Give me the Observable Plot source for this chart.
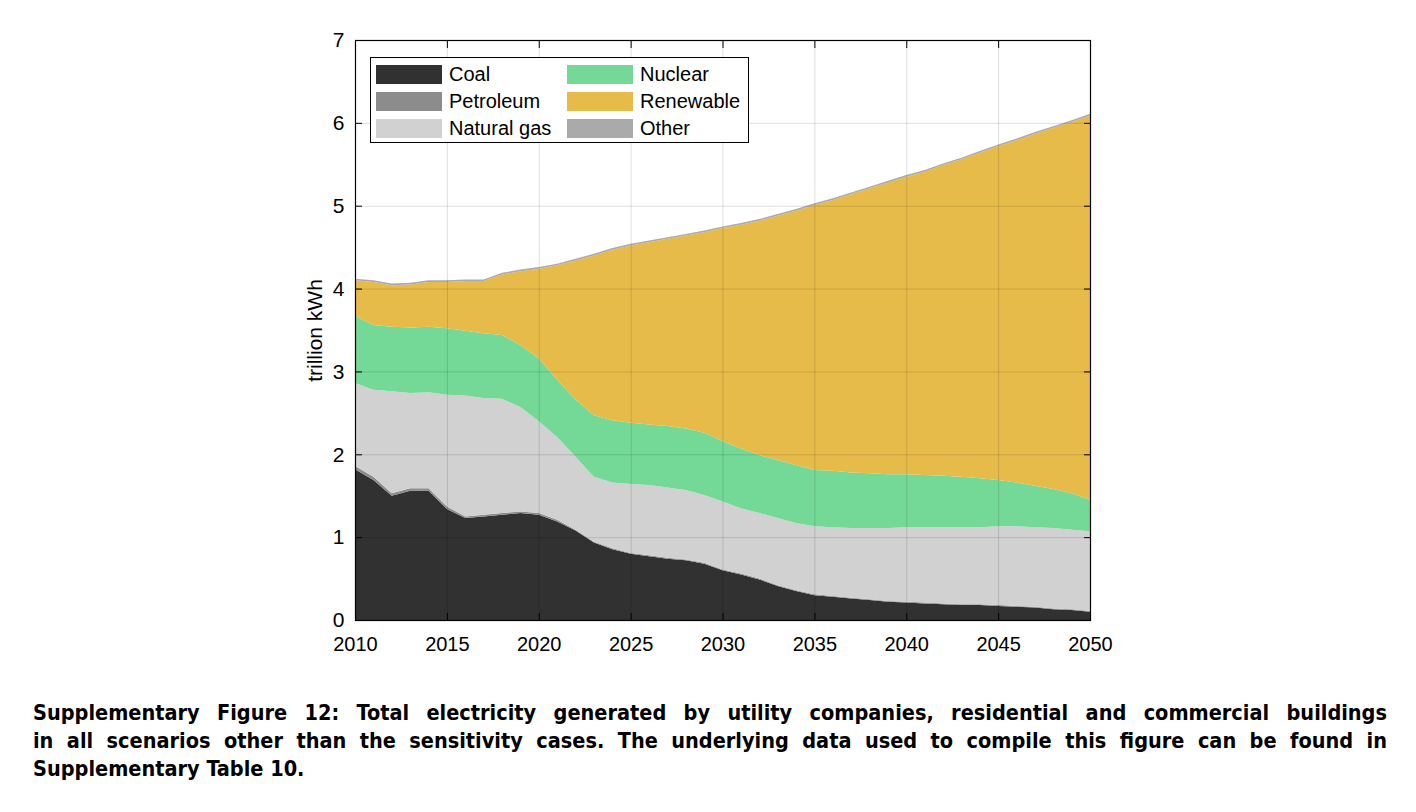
<!DOCTYPE html>
<html><head><meta charset="utf-8">
<script src="https://cdn.jsdelivr.net/npm/d3@7"></script>
<script src="https://cdn.jsdelivr.net/npm/@observablehq/plot@0.6"></script>
<style>
body{margin:0;background:#fff;}
#wrap{position:relative;width:1416px;height:812px;overflow:hidden;}
#legend{position:absolute;left:370px;top:57px;width:377px;height:84px;border:1px solid #000;background:#fff;font-family:"Liberation Sans",Arial,Helvetica,sans-serif;font-size:20px;color:#000;}
.sw{position:absolute;width:66px;height:19px;}
.lab{position:absolute;white-space:nowrap;line-height:20px;}
#caption{position:absolute;left:33px;top:699px;width:1354px;font-family:"Liberation Sans Narrow","DejaVu Sans Condensed",sans-serif;font-weight:bold;font-size:21.5px;line-height:28px;color:#000;}
#caption div{white-space:nowrap;}
.jl{text-align:justify;text-align-last:justify;}
</style>
</head><body>
<div id="wrap">
<div id="chart"></div>
<div id="legend"></div>
<div id="caption"></div>
</div>
<script>
const years = [2010,2011,2012,2013,2014,2015,2016,2017,2018,2019,2020,2021,2022,2023,2024,2025,2026,2027,2028,2029,2030,2031,2032,2033,2034,2035,2036,2037,2038,2039,2040,2041,2042,2043,2044,2045,2046,2047,2048,2049,2050];
const seriesNames = ["Coal","Petroleum","Natural gas","Nuclear","Renewable","Other"];
const seriesColors = ["#313131","#8c8c8c","#d1d1d1","#74d897","#e6bb4a","#aaaaaa"];

const coal = [1.82,1.69,1.50,1.56,1.56,1.34,1.23,1.25,1.27,1.29,1.27,1.19,1.08,0.935,0.855,0.80,0.77,0.74,0.72,0.68,0.60,0.55,0.49,0.41,0.35,0.30,0.28,0.26,0.24,0.22,0.21,0.20,0.19,0.18,0.18,0.17,0.16,0.15,0.13,0.12,0.10];
const petroleum = [0.04,0.04,0.03,0.03,0.03,0.03,0.02,0.02,0.02,0.02,0.02,0.02,0.01,0.01,0.01,0.01,0.01,0.01,0.01,0.01,0.01,0.01,0.01,0.01,0.01,0.01,0.01,0.01,0.01,0.01,0.01,0.01,0.01,0.01,0.01,0.01,0.01,0.01,0.01,0.01,0.01];
const naturalGas = [1.00,1.05,1.23,1.15,1.16,1.35,1.46,1.41,1.38,1.26,1.11,1.00,0.88,0.785,0.795,0.83,0.85,0.85,0.84,0.82,0.82,0.79,0.79,0.81,0.81,0.82,0.83,0.84,0.86,0.88,0.90,0.91,0.92,0.93,0.93,0.95,0.96,0.96,0.97,0.96,0.96];
const nuclear = [0.81,0.78,0.78,0.79,0.79,0.80,0.78,0.78,0.77,0.75,0.76,0.69,0.69,0.74,0.75,0.74,0.73,0.74,0.74,0.75,0.73,0.72,0.70,0.70,0.70,0.68,0.68,0.67,0.66,0.65,0.64,0.63,0.62,0.61,0.59,0.56,0.53,0.50,0.47,0.44,0.38];
const renewable = [0.43,0.52,0.50,0.52,0.54,0.56,0.60,0.63,0.73,0.89,1.08,1.38,1.68,1.93,2.06,2.14,2.20,2.26,2.33,2.42,2.57,2.70,2.83,2.95,3.07,3.20,3.27,3.36,3.44,3.52,3.59,3.66,3.75,3.83,3.93,4.03,4.13,4.25,4.36,4.48,4.64];
const other = [0.02,0.02,0.02,0.02,0.02,0.02,0.02,0.02,0.02,0.02,0.02,0.02,0.02,0.02,0.02,0.02,0.02,0.02,0.02,0.02,0.02,0.02,0.02,0.02,0.02,0.02,0.02,0.02,0.02,0.02,0.02,0.02,0.02,0.02,0.02,0.02,0.02,0.02,0.02,0.02,0.02];

const xTicks = [2010,2015,2020,2025,2030,2035,2040,2045,2050];
const yTicks = [0,1,2,3,4,5,6,7];
const yLabel = "trillion kWh";
const captionLines = [
  "Supplementary Figure 12: Total electricity generated by utility companies, residential and commercial buildings",
  "in all scenarios other than the sensitivity cases. The underlying data used to compile this figure can be found in",
  "Supplementary Table 10."
];

const seriesValues = [coal, petroleum, naturalGas, nuclear, renewable, other];
const rows = [];
seriesNames.forEach((s, k) => {
  years.forEach((yr, i) => rows.push({year: yr, series: s, value: seriesValues[k][i]}));
});

const chart = Plot.plot({
  width: 1416, height: 680,
  marginLeft: 355, marginRight: 326, marginTop: 40, marginBottom: 60,
  style: {fontFamily: "'Liberation Sans', Arial, Helvetica, sans-serif", fontSize: "20px", color: "#000", background: "#fff"},
  x: {domain: [2010, 2050]},
  y: {domain: [0, 7]},
  color: {domain: seriesNames, range: seriesColors},
  marks: [
    Plot.areaY(rows, Plot.stackY({x: "year", y: "value", z: "series", fill: "series", order: seriesNames})),
    Plot.gridX(xTicks, {stroke: "#000", strokeOpacity: 0.13}),
    Plot.gridY(yTicks, {stroke: "#000", strokeOpacity: 0.13}),
    Plot.frame({stroke: "#000", strokeWidth: 1.2}),
    Plot.axisX(xTicks, {anchor: "bottom", tickSize: 0, tickPadding: 16, tickFormat: d => String(d), label: null, fontSize: 20}),
    Plot.axisX(xTicks, {anchor: "bottom", tickSize: -7, text: null, label: null}),
    Plot.axisX(xTicks, {anchor: "top", tickSize: -7, text: null, label: null}),
    Plot.axisY(yTicks, {anchor: "left", tickSize: 0, tickPadding: 11, tickFormat: d => String(d), label: yLabel, labelAnchor: "center", labelArrow: "none", labelOffset: 48, fontSize: 21}),
    Plot.axisY(yTicks, {anchor: "left", tickSize: -7, text: null, label: null}),
    Plot.axisY(yTicks, {anchor: "right", tickSize: -7, text: null, label: null})
  ]
});
document.getElementById("chart").appendChild(chart);

// legend (two columns, three rows)
const legend = document.getElementById("legend");
seriesNames.forEach((s, k) => {
  const col = Math.floor(k / 3), row = k % 3;
  const sw = document.createElement("div");
  sw.className = "sw";
  sw.style.background = seriesColors[k];
  sw.style.left = (5 + col * 191) + "px";
  sw.style.top = (7 + row * 27) + "px";
  legend.appendChild(sw);
  const lab = document.createElement("div");
  lab.className = "lab";
  lab.textContent = s;
  lab.style.left = (78 + col * 191) + "px";
  lab.style.top = (6 + row * 27) + "px";
  legend.appendChild(lab);
});

const cap = document.getElementById("caption");
captionLines.forEach((t, i) => {
  const d = document.createElement("div");
  d.textContent = t;
  if (i < captionLines.length - 1) d.className = "jl";
  cap.appendChild(d);
});
</script>
</body></html>
